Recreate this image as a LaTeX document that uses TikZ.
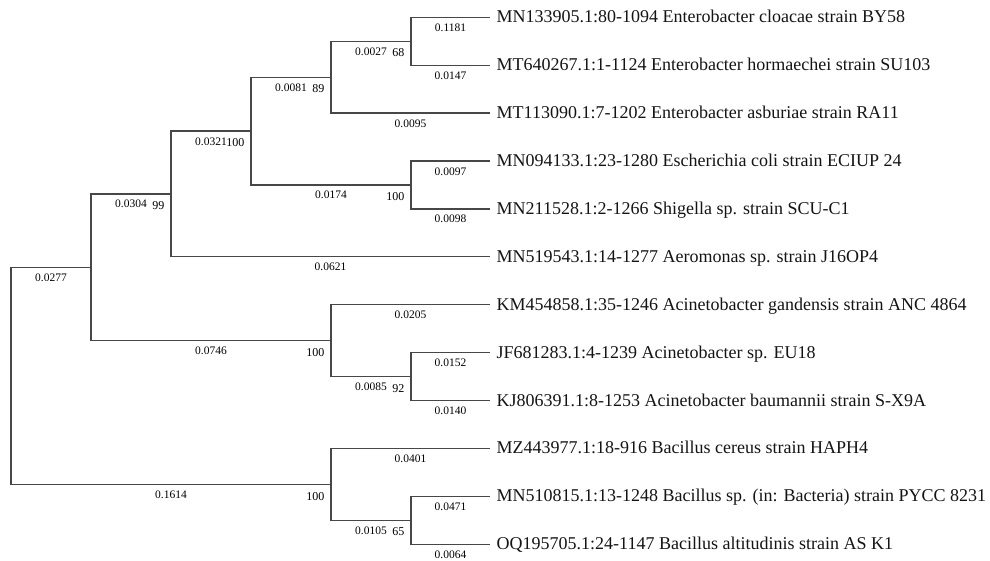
\documentclass[tikz,border=0pt]{standalone}
\usepackage{fontspec}
\setmainfont{Liberation Serif}
\newcommand\treeedge[3]{\draw[br] (#1) |- (#2) node[blen, pos=0.75] {#3};}
\begin{document}
\begin{tikzpicture}[x=1pt,y=-1pt,
  br/.style={draw=black!72, line width=1.3pt},
  blen/.style={anchor=base, yshift=-14pt, inner sep=0pt, font=\fontsize{11.5}{13}\selectfont},
  boot/.style={anchor=base east, inner sep=0pt, font=\fontsize{12}{14}\selectfont},
  leaf/.style={anchor=base west, inner sep=0pt, font=\fontsize{18}{20}\selectfont, text=black!92}]
\useasboundingbox (0,0) rectangle (990,560);
% leaf tips
\coordinate (l1) at (490,17.3);
\coordinate (l2) at (490,65.2);
\coordinate (l3) at (490,113.1);
\coordinate (l4) at (490,161.0);
\coordinate (l5) at (490,208.9);
\coordinate (l6) at (490,256.8);
\coordinate (l7) at (490,304.7);
\coordinate (l8) at (490,352.6);
\coordinate (l9) at (490,400.5);
\coordinate (l10) at (490,448.4);
\coordinate (l11) at (490,496.3);
\coordinate (l12) at (490,544.2);
% internal nodes
\coordinate (A) at (411,41.25);
\coordinate (B) at (331,77.2);
\coordinate (C) at (411,184.95);
\coordinate (D) at (251,131.1);
\coordinate (E) at (171,193.95);
\coordinate (G) at (411,376.55);
\coordinate (H) at (331,340.6);
\coordinate (F) at (91,267.3);
\coordinate (I) at (411,520.25);
\coordinate (J) at (331,484.3);
\coordinate (R) at (11,375.8);
% edges
\treeedge{R}{F}{0.0277}
\treeedge{R}{J}{0.1614}
\treeedge{F}{E}{0.0304}
\treeedge{F}{H}{0.0746}
\treeedge{E}{D}{0.0321}
\treeedge{E}{l6}{0.0621}
\treeedge{D}{B}{0.0081}
\treeedge{D}{C}{0.0174}
\treeedge{B}{A}{0.0027}
\treeedge{B}{l3}{0.0095}
\treeedge{A}{l1}{0.1181}
\treeedge{A}{l2}{0.0147}
\treeedge{C}{l4}{0.0097}
\treeedge{C}{l5}{0.0098}
\treeedge{H}{l7}{0.0205}
\treeedge{H}{G}{0.0085}
\treeedge{G}{l8}{0.0152}
\treeedge{G}{l9}{0.0140}
\treeedge{J}{l10}{0.0401}
\treeedge{J}{I}{0.0105}
\treeedge{I}{l11}{0.0471}
\treeedge{I}{l12}{0.0064}
% bootstrap values
\node[boot] (bA) at ([xshift=-6.5pt,yshift=-15.7pt]A) {68};
\node[boot] (bB) at ([xshift=-6.5pt,yshift=-15.7pt]B) {89};
\node[boot] (bC) at ([xshift=-6.5pt,yshift=-15.7pt]C) {100};
\node[boot] (bD) at ([xshift=-6.5pt,yshift=-15.7pt]D) {100};
\node[boot] (bE) at ([xshift=-6.5pt,yshift=-15.7pt]E) {99};
\node[boot] (bH) at ([xshift=-6.5pt,yshift=-15.7pt]H) {100};
\node[boot] (bG) at ([xshift=-6.5pt,yshift=-15.7pt]G) {92};
\node[boot] (bJ) at ([xshift=-6.5pt,yshift=-15.7pt]J) {100};
\node[boot] (bI) at ([xshift=-6.5pt,yshift=-15.7pt]I) {65};
% leaf labels
\node[leaf] (t1) at ([xshift=6.5pt,yshift=-5.5pt]l1) {MN133905.1:80-1094 Enterobacter cloacae strain BY58};
\node[leaf] (t2) at ([xshift=6.5pt,yshift=-5.5pt]l2) {MT640267.1:1-1124 Enterobacter hormaechei strain SU103};
\node[leaf] (t3) at ([xshift=6.5pt,yshift=-5.5pt]l3) {MT113090.1:7-1202 Enterobacter asburiae strain RA11};
\node[leaf] (t4) at ([xshift=6.5pt,yshift=-5.5pt]l4) {MN094133.1:23-1280 Escherichia coli strain ECIUP 24};
\node[leaf] (t5) at ([xshift=6.5pt,yshift=-5.5pt]l5) {MN211528.1:2-1266 Shigella sp. strain SCU-C1};
\node[leaf] (t6) at ([xshift=6.5pt,yshift=-5.5pt]l6) {MN519543.1:14-1277 Aeromonas sp. strain J16OP4};
\node[leaf] (t7) at ([xshift=6.5pt,yshift=-5.5pt]l7) {KM454858.1:35-1246 Acinetobacter gandensis strain ANC 4864};
\node[leaf] (t8) at ([xshift=6.5pt,yshift=-5.5pt]l8) {JF681283.1:4-1239 Acinetobacter sp. EU18};
\node[leaf] (t9) at ([xshift=6.5pt,yshift=-5.5pt]l9) {KJ806391.1:8-1253 Acinetobacter baumannii strain S-X9A};
\node[leaf] (t10) at ([xshift=6.5pt,yshift=-5.5pt]l10) {MZ443977.1:18-916 Bacillus cereus strain HAPH4};
\node[leaf] (t11) at ([xshift=6.5pt,yshift=-5.5pt]l11) {MN510815.1:13-1248 Bacillus sp. (in: Bacteria) strain PYCC 8231};
\node[leaf] (t12) at ([xshift=6.5pt,yshift=-5.5pt]l12) {OQ195705.1:24-1147 Bacillus altitudinis strain AS K1};
\end{tikzpicture}
\end{document}
